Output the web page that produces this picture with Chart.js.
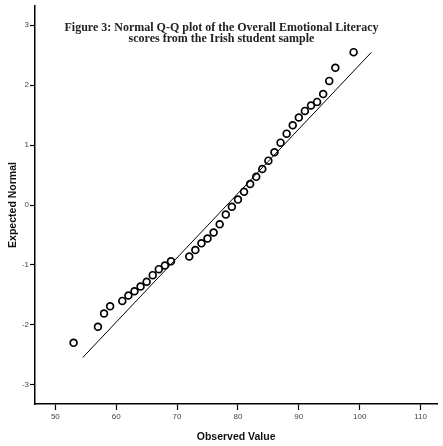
<!DOCTYPE html>
<html>
<head>
<meta charset="utf-8">
<script src="https://cdn.jsdelivr.net/npm/chart.js@4/dist/chart.umd.min.js"></script>
<style>
html,body{margin:0;padding:0;background:#fff;}
#wrap{position:relative;width:443px;height:446px;}
#title{position:absolute;left:0;top:22px;width:443px;text-align:center;
  font-family:"Liberation Serif","DejaVu Serif",serif;font-weight:bold;font-size:12px;line-height:11px;color:#222;}
</style>
</head>
<body>
<div id="wrap">
<canvas id="c" width="443" height="446"></canvas>
<div id="title">Figure 3: Normal Q-Q plot of the Overall Emotional Literacy<br>scores from the Irish student sample</div>
</div>
<script>
// Observed scores and their expected normal values
const observed = [53,57,58,59,61,62,63,64,65,66,67,68,69,72,73,74,75,76,77,78,79,80,81,82,83,84,85,86,87,88,89,90,91,92,93,94,95,96,99];
const expected = [-2.30,-2.03,-1.81,-1.69,-1.60,-1.51,-1.44,-1.36,-1.28,-1.17,-1.07,-1.01,-0.94,-0.86,-0.75,-0.64,-0.56,-0.46,-0.32,-0.16,-0.03,0.09,0.22,0.35,0.47,0.60,0.74,0.88,1.04,1.19,1.33,1.46,1.57,1.66,1.72,1.85,2.07,2.29,2.55];
// Reference line end points
const lineX = [54.5, 101.9];
const lineY = [-2.545, 2.545];
// Tick labels
const xTicks = [50,60,70,80,90,100,110];
const yTicks = [-3,-2,-1,0,1,2,3];
const xTitle = 'Observed Value';
const yTitle = 'Expected Normal';

const pts = observed.map((v,i)=>({x:v,y:expected[i]}));
const linePts = lineX.map((v,i)=>({x:v,y:lineY[i]}));

const tickFont = {family:'"Liberation Sans", Arial, sans-serif', size:8};
const titleFont = {family:'"Liberation Sans", Arial, sans-serif', size:10.5, weight:'bold'};

new Chart(document.getElementById('c'), {
  type:'scatter',
  data:{datasets:[
    {type:'line', data:linePts, borderColor:'#000', borderWidth:1, pointRadius:0, fill:false, showLine:true, order:2},
    {data:pts, pointStyle:'circle', pointRadius:3.4, borderWidth:1.7, borderColor:'#000', backgroundColor:'rgba(255,255,255,0)', order:1}
  ]},
  options:{
    responsive:false, animation:false, devicePixelRatio:1,
    layout:{padding:{top:6,right:0,left:0,bottom:0}},
    plugins:{legend:{display:false}, tooltip:{enabled:false}},
    scales:{
      x:{type:'linear', min:46.66, max:112.75,
        afterBuildTicks:s=>{s.ticks = xTicks.map(v=>({value:v}));},
        afterFit:s=>{s.height = 42;},
        border:{color:'#000', width:1.5},
        grid:{drawOnChartArea:false, drawTicks:true, tickLength:6, color:'#000', tickWidth:1.2},
        ticks:{font:tickFont, color:'#444', padding:2, maxRotation:0, autoSkip:false},
        title:{display:true, text:xTitle, font:titleFont, color:'#111', padding:{top:0,bottom:3}}
      },
      y:{type:'linear', min:-3.32, max:3.32,
        afterBuildTicks:s=>{s.ticks = yTicks.map(v=>({value:v}));},
        afterFit:s=>{s.width = 35;},
        border:{color:'#000', width:1.5},
        grid:{drawOnChartArea:false, drawTicks:true, tickLength:5, color:'#000', tickWidth:1.2},
        ticks:{font:tickFont, color:'#444', padding:1, autoSkip:false},
        title:{display:true, text:yTitle, font:titleFont, color:'#111', padding:{top:7,bottom:0}}
      }
    }
  }
});
</script>
</body>
</html>
